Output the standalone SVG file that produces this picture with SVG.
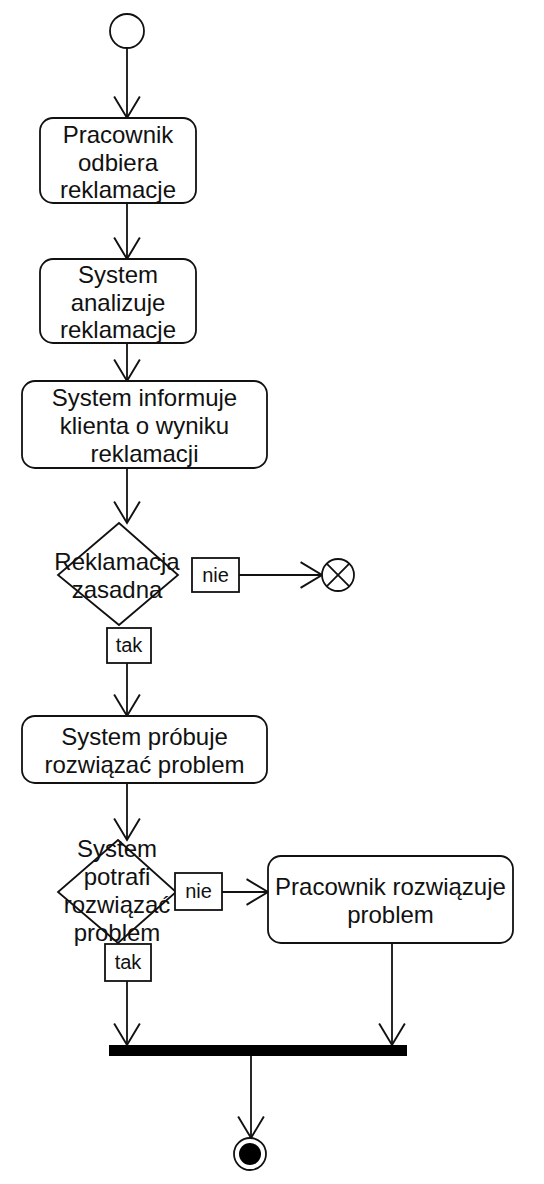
<svg xmlns="http://www.w3.org/2000/svg" width="544" height="1184" viewBox="0 0 544 1184">
<style>
.s{fill:#fff;stroke:#111;stroke-width:1.8}
.t{font-family:"Liberation Sans",Arial,sans-serif;font-size:24px;fill:#111;text-anchor:middle}
.l{font-family:"Liberation Sans",Arial,sans-serif;font-size:20px;fill:#111;text-anchor:middle}
.c{fill:none;stroke:#111;stroke-width:1.8}
</style>
<defs>
<marker id="a" markerUnits="userSpaceOnUse" orient="auto" refX="0" refY="0" markerWidth="30" markerHeight="30" viewBox="-22 -14 24 28" overflow="visible">
<path d="M-20,-12 L0,0 L-20,12" fill="none" stroke="#111" stroke-width="1.8"/>
</marker>
</defs>
<rect width="544" height="1184" fill="#fff"/>
<g id="connectors">
<path class="c" d="M127,48 L127,118" marker-end="url(#a)"/>
<path class="c" d="M127,203 L127,259" marker-end="url(#a)"/>
<path class="c" d="M127,343 L127,381" marker-end="url(#a)"/>
<path class="c" d="M127,468 L127,523" marker-end="url(#a)"/>
<path class="c" d="M239,575 L322,575" marker-end="url(#a)"/>
<path class="c" d="M127,663 L127,716" marker-end="url(#a)"/>
<path class="c" d="M127,783 L127,840" marker-end="url(#a)"/>
<path class="c" d="M222,892 L268,892" marker-end="url(#a)"/>
<path class="c" d="M127,981 L127,1045" marker-end="url(#a)"/>
<path class="c" d="M392,943 L392,1045" marker-end="url(#a)"/>
<path class="c" d="M251,1056 L251,1138" marker-end="url(#a)"/>
</g>
<g id="start"><circle class="s" cx="127" cy="31" r="17"/></g>
<g id="n1"><rect class="s" x="40" y="118" width="156" height="85" rx="13"/>
<text class="t" x="118" y="143">Pracownik</text><text class="t" x="118" y="171">odbiera</text><text class="t" x="118" y="198">reklamacje</text></g>
<g id="n2"><rect class="s" x="40" y="259" width="156" height="84" rx="13"/>
<text class="t" x="118" y="283">System</text><text class="t" x="118" y="311">analizuje</text><text class="t" x="118" y="338">reklamacje</text></g>
<g id="n3"><rect class="s" x="22" y="381" width="245" height="87" rx="13"/>
<text class="t" x="144.5" y="406">System informuje</text><text class="t" x="144.5" y="434">klienta o wyniku</text><text class="t" x="144.5" y="462">reklamacji</text></g>
<g id="d1"><polygon class="s" points="119,523 178,575 119,625 58,575"/>
<text class="t" x="117" y="570">Reklamacja</text><text class="t" x="117" y="598">zasadna</text></g>
<g id="lbl-nie1"><rect class="s" x="192" y="558" width="47" height="34"/><text class="l" x="215.5" y="582">nie</text></g>
<g id="end-flow"><circle class="s" cx="338" cy="575" r="16"/>
<path class="c" d="M326.7,563.7 L349.3,586.3 M349.3,563.7 L326.7,586.3"/></g>
<g id="lbl-tak1"><rect class="s" x="107" y="628" width="44" height="35"/><text class="l" x="129" y="652">tak</text></g>
<g id="n4"><rect class="s" x="22" y="716" width="245" height="67" rx="13"/>
<text class="t" x="144.5" y="745">System próbuje</text><text class="t" x="144.5" y="773">rozwiązać problem</text></g>
<g id="d2"><polygon class="s" points="118,840 176,892 118,943 58,892"/>
<text class="t" x="117" y="857">System</text><text class="t" x="117" y="885">potrafi</text><text class="t" x="117" y="913">rozwiązać</text><text class="t" x="117" y="941">problem</text></g>
<g id="lbl-nie2"><rect class="s" x="175" y="873" width="47" height="37"/><text class="l" x="198.5" y="898">nie</text></g>
<g id="n5"><rect class="s" x="268" y="856" width="245" height="87" rx="13"/>
<text class="t" x="390.5" y="895">Pracownik rozwiązuje</text><text class="t" x="390.5" y="923">problem</text></g>
<g id="lbl-tak2"><rect class="s" x="105" y="944" width="46" height="37"/><text class="l" x="128" y="969">tak</text></g>
<g id="join"><rect x="109" y="1045" width="298" height="11" fill="#000"/></g>
<g id="final"><circle class="s" cx="250" cy="1154" r="16"/><circle cx="250" cy="1154" r="11" fill="#000"/></g>
</svg>
